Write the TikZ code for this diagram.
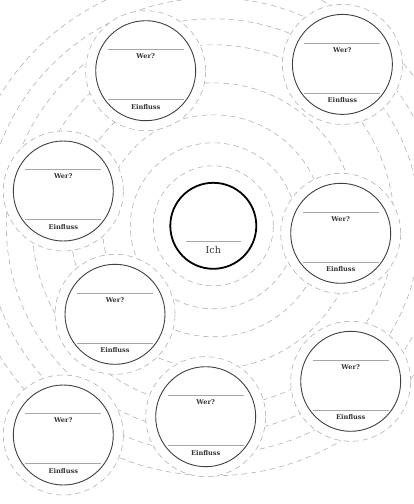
\documentclass[tikz,border=0pt]{standalone}
\usepackage{fontspec}
\setmainfont{DejaVu Serif}
\begin{document}
\begin{tikzpicture}[x=1pt,y=-1pt,
  ring/.style={draw=black!30,dash pattern=on 5.5pt off 4pt,line width=0.6pt},
  halo/.style={draw=black!30,fill=white,dash pattern=on 5.5pt off 4pt,line width=0.6pt},
  satcircle/.style={circle,draw=black!75,line width=0.9pt,minimum size=100pt,inner sep=0pt},
  divline/.style={draw=black!35,line width=0.8pt},
  lbl/.style={font=\fontsize{6.6}{7}\selectfont\bfseries,text=black!80,inner sep=0pt},
  ichlbl/.style={font=\fontsize{9.5}{10}\selectfont,text=black!80,inner sep=0pt}]
\useasboundingbox (0,0) rectangle (414,504);
\begin{scope}
\clip (0,0) rectangle (414,504);
\coordinate (c) at (213.3,225.8);
\foreach \r in {60,83,111,143,181,207,228,250}{
  \draw[ring] (c) circle[radius=\r pt];
}
\foreach \n/\x/\y in {s1/145.7/70.7, s2/342.4/64.4, s3/63.3/191, s4/340.7/233.3,
                      s5/115/314.3, s6/350.7/381.3, s7/205.7/416.7, s8/63.3/435}{
  \draw[halo] (\x,\y) circle[radius=60pt];
  \node[satcircle] (\n) at (\x,\y) {};
  \draw[divline] ([xshift=-38pt,yshift=21.3pt]\n.center) -- ([xshift=38pt,yshift=21.3pt]\n.center);
  \draw[divline] ([xshift=-38pt,yshift=-28.7pt]\n.center) -- ([xshift=38pt,yshift=-28.7pt]\n.center);
  \node[lbl] (\n w) at ([yshift=14.5pt]\n.center) {Wer?};
  \node[lbl] (\n e) at ([yshift=-36pt]\n.center) {Einfluss};
}
\node[circle,draw=black,line width=1.8pt,minimum size=86pt,inner sep=0pt] (ich) at (c) {};
\draw[divline] ([xshift=-27.5pt,yshift=-16pt]ich.center) -- ([xshift=27.5pt,yshift=-16pt]ich.center);
\node[ichlbl] (ichl) at ([yshift=-24pt]ich.center) {Ich};
\end{scope}
\end{tikzpicture}
\end{document}
